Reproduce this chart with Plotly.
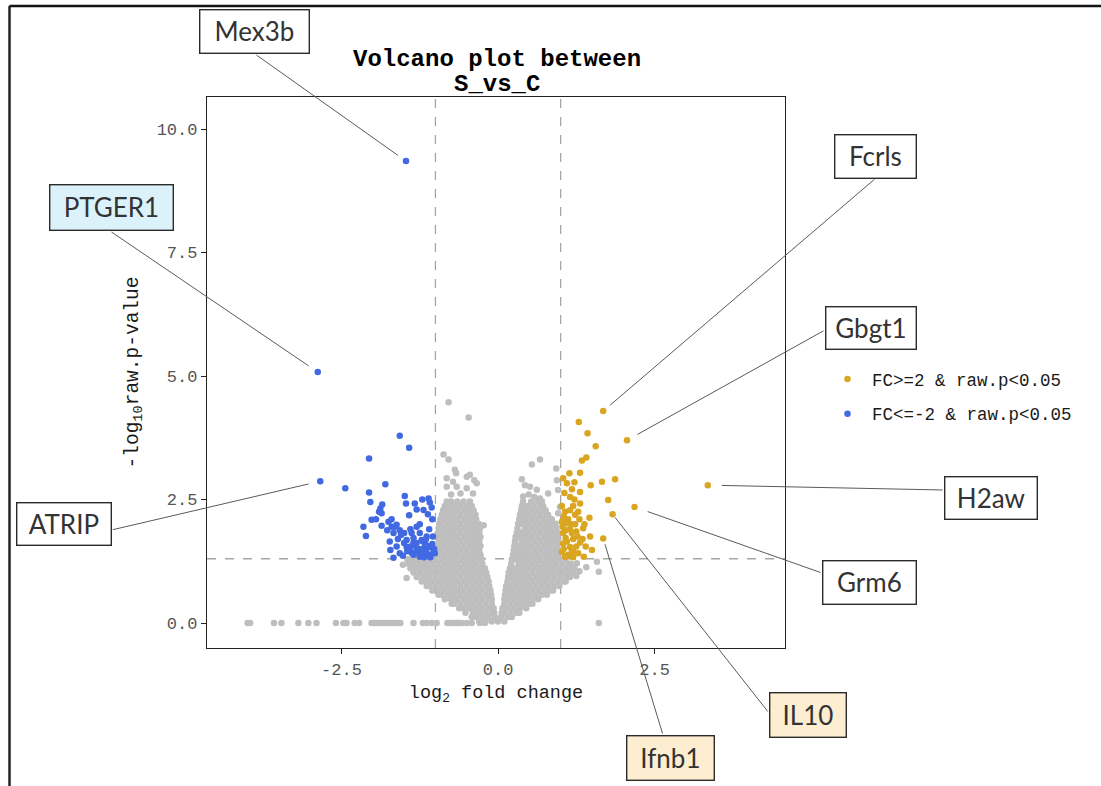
import plotly.graph_objects as go

# ---------------- data ----------------
# grey (non-significant) genes, dense core given row by row: (-log10 p, [log2FC ...])
GREY_ROWS = [
    (0.03, [-0.30, -0.20, -0.10, 0.00, 0.10]),
    (0.12, [-0.42, -0.35, -0.25, -0.15, -0.05, 0.05, 0.15, 0.22]),
    (0.21, [-0.52, -0.40, -0.30, -0.20, -0.10, -0.06, 0.06, 0.10, 0.20, 0.30, 0.34]),
    (0.30, [-0.62, -0.55, -0.45, -0.35, -0.25, -0.15, -0.07, 0.07, 0.15, 0.25, 0.35, 0.45]),
    (0.39, [-0.74, -0.70, -0.60, -0.50, -0.40, -0.30, -0.20, -0.10, 0.10, 0.20, 0.30, 0.40, 0.50, 0.55]),
    (0.48, [-0.85, -0.75, -0.65, -0.55, -0.45, -0.35, -0.25, -0.15, -0.10, 0.10, 0.15, 0.25, 0.35, 0.45, 0.55, 0.64]),
    (0.57, [-0.95, -0.90, -0.80, -0.70, -0.60, -0.50, -0.40, -0.30, -0.20, -0.11, 0.11, 0.20, 0.30, 0.40, 0.50, 0.60, 0.70, 0.78]),
    (0.66, [-1.05, -0.95, -0.85, -0.75, -0.65, -0.55, -0.45, -0.35, -0.25, -0.15, -0.12, 0.12, 0.18, 0.25, 0.35, 0.45, 0.55, 0.65, 0.75, 0.85, 0.88]),
    (0.75, [-1.14, -1.10, -1.00, -0.90, -0.80, -0.70, -0.60, -0.50, -0.40, -0.30, -0.20, -0.14, 0.13, 0.20, 0.30, 0.40, 0.50, 0.60, 0.70, 0.80, 0.90, 0.98]),
    (0.84, [-1.22, -1.15, -1.05, -0.95, -0.85, -0.75, -0.65, -0.55, -0.45, -0.35, -0.25, -0.15, 0.15, 0.25, 0.35, 0.45, 0.55, 0.65, 0.75, 0.85, 0.95, 1.05, 1.08]),
    (0.93, [-1.30, -1.20, -1.10, -1.00, -0.90, -0.80, -0.70, -0.60, -0.50, -0.40, -0.30, -0.20, -0.17, 0.16, 0.20, 0.30, 0.40, 0.50, 0.60, 0.70, 0.80, 0.90, 1.00, 1.10, 1.15]),
    (1.02, [-1.35, -1.25, -1.15, -1.05, -0.95, -0.85, -0.75, -0.65, -0.55, -0.45, -0.35, -0.25, -0.19, 0.17, 0.25, 0.35, 0.45, 0.55, 0.65, 0.75, 0.85, 0.95, 1.05, 1.15, 1.20]),
    (1.11, [-1.40, -1.30, -1.20, -1.10, -1.00, -0.90, -0.80, -0.70, -0.60, -0.50, -0.40, -0.30, -0.21, 0.19, 0.28, 0.38, 0.48, 0.58, 0.68, 0.78, 0.88, 0.98, 1.08, 1.18, 1.22]),
    (1.20, [-1.43, -1.35, -1.25, -1.15, -1.05, -0.95, -0.85, -0.75, -0.65, -0.55, -0.45, -0.35, -0.25, 0.21, 0.33, 0.43, 0.53, 0.63, 0.73, 0.83, 0.93, 1.03, 1.13, 1.16]),
    (1.29, [-1.45, -1.40, -1.30, -1.20, -1.10, -1.00, -0.90, -0.80, -0.70, -0.60, -0.50, -0.40, -0.30, -0.26, 0.22, 0.28, 0.38, 0.48, 0.58, 0.68, 0.78, 0.88, 0.98, 1.08]),
    (1.38, [-0.95, -0.85, -0.75, -0.65, -0.55, -0.45, -0.35, -0.28, 0.24, 0.33, 0.43, 0.53, 0.63, 0.73, 0.83, 0.93, 0.95]),
    (1.47, [-0.95, -0.90, -0.80, -0.70, -0.60, -0.50, -0.40, -0.30, 0.25, 0.28, 0.38, 0.48, 0.58, 0.68, 0.78, 0.88, 0.95]),
    (1.56, [-0.95, -0.85, -0.75, -0.65, -0.55, -0.45, -0.35, -0.28, 0.26, 0.33, 0.43, 0.53, 0.63, 0.73, 0.83, 0.93, 0.95]),
    (1.65, [-0.95, -0.90, -0.80, -0.70, -0.60, -0.50, -0.40, -0.30, 0.27, 0.38, 0.48, 0.58, 0.68, 0.78, 0.88, 0.95]),
    (1.74, [-0.95, -0.85, -0.75, -0.65, -0.55, -0.45, -0.35, -0.28, 0.28, 0.33, 0.43, 0.53, 0.63, 0.73, 0.83, 0.93, 0.95]),
    (1.83, [-0.95, -0.90, -0.80, -0.70, -0.60, -0.50, -0.40, -0.30, 0.30, 0.38, 0.48, 0.58, 0.68, 0.78, 0.88, 0.95]),
    (1.92, [-0.95, -0.85, -0.75, -0.65, -0.55, -0.45, -0.35, -0.29, 0.31, 0.43, 0.53, 0.63, 0.73, 0.83, 0.93]),
    (2.01, [-0.94, -0.90, -0.80, -0.70, -0.60, -0.50, -0.40, -0.31, 0.32, 0.38, 0.48, 0.58, 0.68, 0.78, 0.88, 0.92]),
    (2.10, [-0.92, -0.85, -0.75, -0.65, -0.55, -0.45, -0.35, 0.34, 0.43, 0.53, 0.63, 0.73, 0.83, 0.86]),
    (2.19, [-0.90, -0.80, -0.70, -0.60, -0.50, -0.40, -0.36, 0.35, 0.38, 0.48, 0.58, 0.68, 0.78, 0.80]),
    (2.28, [-0.88, -0.85, -0.75, -0.65, -0.55, -0.45, -0.39, 0.37, 0.43, 0.53, 0.63, 0.73, 0.76]),
    (2.37, [-0.85, -0.80, -0.70, -0.60, -0.50, -0.42, 0.38, 0.48, 0.58, 0.68, 0.72]),
    (2.46, [-0.82, -0.75, -0.65, -0.55, -0.45, 0.40, 0.53, 0.63, 0.70]),
]
# grey genes with p = 1 (sitting on y = 0)
GREY_ZERO_X = [-4.00, -3.96, -3.58, -3.46, -3.19, -3.03, -2.90, -2.59, -2.47, -2.42,
               -2.29, -2.22, -2.02, -1.98, -1.94, -1.90, -1.86, -1.82, -1.78, -1.74,
               -1.70, -1.66, -1.62, -1.56, -1.35, -1.20, -1.14, -1.06, -0.98, -0.81,
               -0.77, -0.74, -0.70, -0.66, -0.62, -0.58, -0.50, -0.42, -0.29, -0.21, 1.61]
# sparse grey genes
GREY_SPARSE_X = [-0.87, -0.79, -0.69, -0.67, -0.82, -0.72, -0.50, -0.45, -0.38, -0.34,
                 -0.82, -0.66, -0.50, -0.60, -0.75, -0.40, -0.79, -0.47, -0.23,
                 0.54, 0.67, 0.93, 0.38, 0.43, 0.51, 0.40, 0.49, 0.58, 0.67, 0.94,
                 0.96, 0.99, 0.96, 0.62, 0.80,
                 -1.46, -1.52, 1.26, 1.41, 1.58, 1.61, 1.30, 1.25]
GREY_SPARSE_Y = [3.41, 3.31, 3.10, 3.03, 2.93, 2.86, 2.96, 3.00, 2.89, 2.83,
                 2.76, 2.76, 2.73, 2.62, 2.60, 2.62, 4.47, 4.16, 1.98,
                 3.21, 3.31, 3.13, 2.91, 2.79, 2.76, 2.56, 2.60, 2.55, 2.52, 2.89,
                 2.69, 2.35, 2.22, 2.70, 2.62,
                 0.91, 1.18, 1.21, 1.13, 1.24, 1.04, 1.05, 0.95]

# up-regulated (FC>=2 & raw.p<0.05)
UP_X = [1.29, 1.43, 1.56, 1.41, 1.34, 1.14, 1.31, 1.04, 1.10, 1.22, 1.18, 1.06, 1.31,
        1.48, 1.66, 1.87, 1.76, 1.02, 1.20, 1.31, 1.07, 1.23, 1.46, 1.10, 1.23, 1.36,
        1.04, 1.18, 1.47, 1.31, 1.04, 1.15, 1.50, 1.02, 1.28, 1.12, 1.37, 1.07, 1.20,
        1.05, 1.10, 1.15, 1.20, 1.25, 1.08, 1.12, 1.18, 1.25, 1.30, 1.03, 1.22, 1.15,
        1.05, 1.10, 1.20, 1.40, 1.35, 1.28, 1.38, 1.15, 1.02, 1.27, 1.17, 1.08]
UP_Y = [4.07, 3.84, 3.58, 3.35, 3.29, 3.03, 3.04, 2.93, 2.83, 2.85, 2.71, 2.63, 2.65,
        2.79, 2.86, 2.91, 2.49, 2.37, 2.37, 2.42, 2.25, 2.19, 2.13, 2.02, 2.00, 1.92,
        1.82, 1.82, 1.75, 1.63, 1.61, 1.54, 1.48, 1.44, 1.41, 1.38, 1.34, 1.34, 1.44,
        1.50, 1.65, 1.90, 1.70, 1.55, 1.72, 2.10, 1.45, 1.85, 2.10, 1.95, 2.50, 2.55,
        2.15, 1.35, 1.33, 1.55, 1.70, 2.25, 2.00, 2.28, 2.05, 1.75, 2.00, 1.88]

# down-regulated (FC<=-2 & raw.p<0.05)
DOWN_X = [-1.57, -1.42, -2.06, -2.44, -1.80, -2.06, -2.04, -1.49, -1.47, -1.33, -1.21,
          -1.11, -1.09, -1.06, -1.19, -1.42, -1.88, -1.86, -2.02, -1.86, -2.15, -2.11,
          -1.75, -1.70, -1.67, -1.57, -1.50, -1.46, -1.35, -1.25, -1.25, -1.22, -1.14,
          -1.09, -1.03, -1.30, -1.41, -1.46, -1.73, -1.72, -1.67, -1.57, -1.35, -1.25,
          -1.09, -1.01, -1.77, -1.62, -1.30, -1.38, -1.17, -1.33,
          -1.20, -1.15, -1.25, -1.10, -1.05, -1.30, -1.40, -1.20, -1.15, -1.35, -1.50,
          -1.60, -1.55, -1.65, -1.70, -1.90, -1.95, -1.85, -1.40, -1.10, -1.05, -1.12,
          -1.30, -1.02, -1.08, -1.18, -1.28, -1.38, -1.45, -1.52, -1.62, -1.04, -1.15]
DOWN_Y = [3.79, 3.55, 3.33, 2.73, 2.81, 2.64, 2.45, 2.57, 2.42, 2.42, 2.50,
          2.52, 2.44, 2.34, 2.29, 2.18, 2.32, 2.22, 2.09, 1.97, 1.95, 1.76,
          2.05, 1.95, 1.82, 1.88, 1.82, 1.68, 1.63, 2.00, 1.82, 1.68, 1.75,
          1.54, 1.44, 1.48, 1.48, 1.54, 1.65, 1.48, 1.32, 1.41, 1.38, 1.34,
          1.35, 1.41, 1.88, 1.99, 1.95, 1.82, 1.54, 1.57,
          1.40, 1.45, 1.50, 1.38, 1.60, 1.62, 1.55, 1.65, 1.70, 1.72, 1.62,
          1.70, 1.78, 1.95, 2.10, 2.25, 2.10, 2.40, 1.90, 1.90, 2.10, 2.20,
          2.30, 1.50, 1.33, 1.33, 1.42, 1.42, 1.45, 1.36, 1.55, 1.75, 1.58]

# labelled genes
LABEL_GENES = ["Mex3b", "PTGER1", "ATRIP", "Fcrls", "Gbgt1", "H2aw", "Grm6", "IL10", "Ifnb1"]
LABEL_X = [-1.47, -2.88, -2.84, 1.68, 2.06, 3.35, 2.18, 1.83, 1.68]
LABEL_Y = [9.35, 5.08, 2.87, 4.29, 3.70, 2.79, 2.35, 2.20, 1.71]
LABEL_DIR = ["down", "down", "down", "up", "up", "up", "up", "up", "up"]

X_TICKS = [-2.5, 0.0, 2.5]
X_TICKTEXT = ["-2.5", "0.0", "2.5"]
Y_TICKS = [0.0, 2.5, 5.0, 7.5, 10.0]
Y_TICKTEXT = ["0.0", "2.5", "5.0", "7.5", "10.0"]
FC_CUT = 1.0
P_CUT = 1.301  # -log10(0.05)
TITLE_LINES = ["Volcano plot between", "S_vs_C"]

# ---------------- layout geometry ----------------
W, H = 1101, 786
ML, MR, MT, MB = 207, 316, 97, 138
PW, PH = W - ML - MR, H - MT - MB
XMIN, XMAX = -4.649, 4.584
YMIN, YMAX = -0.506, 10.648

def px_x(px):   # page pixel -> paper x
    return (px - ML) / PW

def px_y(py):   # page pixel -> paper y
    return (H - MB - py) / PH

def dat_x(px):  # page pixel -> data x
    return XMIN + (px - ML) / PW * (XMAX - XMIN)

def dat_y(py):  # page pixel -> data y
    return YMIN + (H - MB - py) / PH * (YMAX - YMIN)

# label box placement: center, size, leader-line start, standoff, fill
LABEL_STYLE = {
    "Mex3b":  dict(cx=254, cy=32, w=110, h=44, sx=255, sy=54, so=10, fill="#ffffff"),
    "PTGER1": dict(cx=111, cy=207, w=124, h=46, sx=110, sy=231, so=11, fill="#dcf2fb"),
    "ATRIP":  dict(cx=63.5, cy=523.5, w=95, h=43, sx=111.5, sy=530, so=12, fill="#ffffff"),
    "Fcrls":  dict(cx=875, cy=156, w=82, h=44, sx=876, sy=178, so=9, fill="#ffffff"),
    "Gbgt1":  dict(cx=870.5, cy=327.5, w=91, h=43, sx=825, sy=330, so=12, fill="#ffffff"),
    "H2aw":   dict(cx=990.5, cy=497.5, w=93, h=43, sx=944, sy=490, so=14, fill="#ffffff"),
    "Grm6":   dict(cx=869, cy=582, w=94, h=44, sx=822, sy=573, so=14, fill="#ffffff"),
    "IL10":   dict(cx=807.5, cy=714.5, w=77, h=45, sx=769, sy=713, so=4, fill="#fdeed2"),
    "Ifnb1":  dict(cx=670, cy=758.5, w=88, h=45, sx=663, sy=735, so=6, fill="#fdeed2"),
}

GREY = "#bebebe"
BLUE = "#4169e1"
GOLD = "#daa520"
MONO = "Liberation Mono"

# ---------------- build traces ----------------
grey_x, grey_y = [], []
for yv, xs in GREY_ROWS:
    for xv in xs:
        grey_x.append(xv)
        grey_y.append(yv)
grey_x += GREY_ZERO_X
grey_y += [0.0] * len(GREY_ZERO_X)
grey_x += GREY_SPARSE_X
grey_y += GREY_SPARSE_Y

up_x = UP_X + [x for x, d in zip(LABEL_X, LABEL_DIR) if d == "up"]
up_y = UP_Y + [y for y, d in zip(LABEL_Y, LABEL_DIR) if d == "up"]
dn_x = DOWN_X + [x for x, d in zip(LABEL_X, LABEL_DIR) if d == "down"]
dn_y = DOWN_Y + [y for y, d in zip(LABEL_Y, LABEL_DIR) if d == "down"]

fig = go.Figure()
fig.add_trace(go.Scatter(x=grey_x, y=grey_y, mode="markers", showlegend=False,
                         marker=dict(color=GREY, size=6.5, line=dict(width=0)),
                         hoverinfo="skip"))
fig.add_trace(go.Scatter(x=up_x, y=up_y, mode="markers", name="FC>=2 & raw.p<0.05",
                         legendgroup="up",
                         marker=dict(color=GOLD, size=6.5, line=dict(width=0))))
fig.add_trace(go.Scatter(x=dn_x, y=dn_y, mode="markers", name="FC<=-2 & raw.p<0.05",
                         legendgroup="down",
                         marker=dict(color=BLUE, size=6.5, line=dict(width=0))))

shapes = [
    dict(type="line", xref="x", yref="paper", x0=-FC_CUT, x1=-FC_CUT, y0=0, y1=1,
         line=dict(color="#a6a6a6", width=1.3, dash="dash"), layer="below"),
    dict(type="line", xref="x", yref="paper", x0=FC_CUT, x1=FC_CUT, y0=0, y1=1,
         line=dict(color="#a6a6a6", width=1.3, dash="dash"), layer="below"),
    dict(type="line", xref="paper", yref="y", x0=0, x1=1, y0=P_CUT, y1=P_CUT,
         line=dict(color="#a6a6a6", width=1.3, dash="dash"), layer="below"),
    # frame of the picture (top and left edges)
    dict(type="line", xref="paper", yref="paper", x0=px_x(9.5), x1=px_x(1102),
         y0=px_y(6), y1=px_y(6), line=dict(color="#111111", width=2.5)),
    dict(type="line", xref="paper", yref="paper", x0=px_x(9.5), x1=px_x(9.5),
         y0=px_y(6), y1=px_y(790), line=dict(color="#222222", width=2.5)),
]

annotations = []
for line_text, cy in zip(TITLE_LINES, [59, 84]):
    annotations.append(dict(
        text="<b>" + line_text + "</b>", xref="paper", yref="paper",
        x=px_x(497), y=px_y(cy), xanchor="center", yanchor="middle", showarrow=False,
        font=dict(family=MONO, size=24, color="#000000")))
for g, gx, gy in zip(LABEL_GENES, LABEL_X, LABEL_Y):
    s = LABEL_STYLE[g]
    annotations.append(dict(
        text="", x=gx, y=gy, xref="x", yref="y",
        ax=dat_x(s["sx"]), ay=dat_y(s["sy"]), axref="x", ayref="y",
        showarrow=True, arrowhead=0, arrowwidth=1, arrowcolor="#5a5a5a",
        standoff=s["so"], font=dict(size=1)))
for g in LABEL_GENES:
    s = LABEL_STYLE[g]
    annotations.append(dict(
        text=g, xref="paper", yref="paper", x=px_x(s["cx"]), y=px_y(s["cy"]),
        xanchor="center", yanchor="middle", showarrow=False,
        width=s["w"] - 2, height=s["h"] - 2, borderpad=0,
        bgcolor=s["fill"], bordercolor="#2b2b2b", borderwidth=1.4,
        font=dict(family="Lato", size=26, color="#333333")))

fig.update_layout(
    width=W, height=H,
    margin=dict(l=ML, r=MR, t=MT, b=MB),
    paper_bgcolor="white", plot_bgcolor="white",
    shapes=shapes, annotations=annotations,
    legend=dict(x=px_x(823), y=px_y(361), xanchor="left", yanchor="top",
                itemwidth=39,
                font=dict(family=MONO, size=17.5, color="#1a1a1a"),
                tracegroupgap=9, traceorder="grouped", bgcolor="rgba(0,0,0,0)"),
    xaxis=dict(range=[XMIN, XMAX], tickvals=X_TICKS, ticktext=X_TICKTEXT,
               showgrid=False, zeroline=False, showline=True, mirror=True,
               linecolor="#222222", linewidth=1.3, ticks="outside", ticklen=5,
               tickwidth=1.3, tickcolor="#222222",
               tickfont=dict(family=MONO, size=17, color="#555555"),
               title=dict(text="log<sub>2</sub> fold change", standoff=6,
                          font=dict(family=MONO, size=18.5, color="#1a1a1a"))),
    yaxis=dict(range=[YMIN, YMAX], tickvals=Y_TICKS, ticktext=Y_TICKTEXT,
               showgrid=False, zeroline=False, showline=True, mirror=True,
               linecolor="#222222", linewidth=1.3, ticks="outside", ticklen=5,
               tickwidth=1.3, tickcolor="#222222",
               tickfont=dict(family=MONO, size=17, color="#555555"),
               title=dict(text="-log<sub>10</sub>raw.p-value", standoff=12,
                          font=dict(family=MONO, size=19.5, color="#1a1a1a"))),
)

fig.write_html("out.html", config={"displayModeBar": False},
               post_script="document.body.style.margin='0';")
